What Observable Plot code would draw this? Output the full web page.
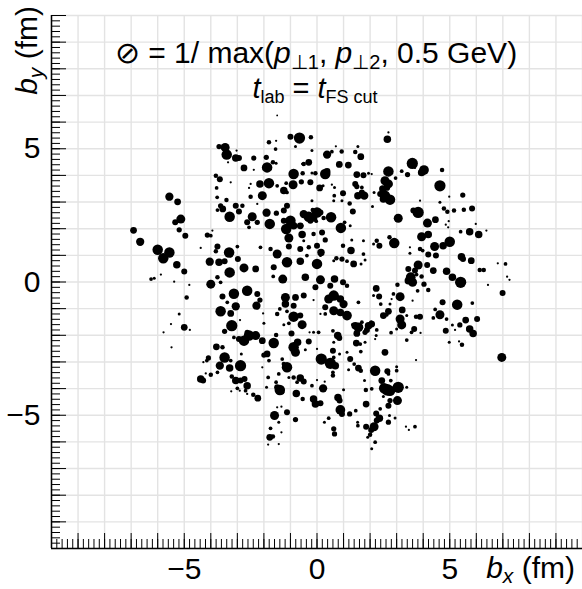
<!DOCTYPE html>
<html><head><meta charset="utf-8">
<script src="https://cdn.jsdelivr.net/npm/d3@7"></script>
<script src="https://cdn.jsdelivr.net/npm/@observablehq/plot@0.6"></script>
<style>
html,body{margin:0;padding:0;background:#fff;}
#chart svg{display:block}
</style></head><body><div id="chart"></div>
<script>
// [b_x (fm), b_y (fm), ⊘ (fm)], grouped by region
const regionNW = [
[-0.66,5.40,0.375],[-1.00,5.45,0.2],[-0.23,5.43,0.15],[-0.81,5.08,0.1],[-1.81,5.24,0.15],[-1.54,5.30,0.075],
[-1.56,4.99,0.125],[-3.69,5.08,0.175],[-3.46,5.05,0.3],[-3.40,4.78,0.35],[-3.06,4.65,0.25],[-2.94,4.65,0.2],
[-3.03,4.93,0.075],[-3.35,4.49,0.075],[-2.75,4.28,0.225],[-2.38,4.65,0.175],[-1.91,4.68,0.175],[-1.88,4.30,0.35],
[-1.66,4.49,0.15],[-1.54,4.46,0.1],[-2.38,4.21,0.075],[-0.88,4.05,0.35],[-0.54,4.08,0.15],[-0.19,4.09,0.1],
[-0.56,4.43,0.075],[-0.38,4.49,0.075],[-0.19,4.93,0.1],[-3.81,3.99,0.15],[-3.66,3.86,0.2],[-3.25,3.74,0.075],
[-2.5,3.68,0.075],[-2.56,3.53,0.075],[-2.15,3.68,0.25],[-1.81,3.71,0.35],[-1.5,3.61,0.125],[-1.16,3.71,0.125],
[-0.9,3.65,0.3],[-0.59,3.76,0.175],[-0.25,3.74,0.2],[-1.25,3.43,0.25],[-1.13,3.36,0.125],[-2.06,3.24,0.3],
[-2.5,3.2,0.15],[-3.78,3.53,0.125],[-3.76,3.18,0.125],[-3.41,3.08,0.15],[-3.06,2.86,0.2],[-2.81,2.86,0.15],
[-2.25,2.93,0.075],[-1.9,2.6,0.275],[-3.63,2.86,0.175],[-3.55,2.74,0.225],[-3.75,2.7,0.125],[-3.29,2.45,0.35],
[-2.94,2.65,0.2],[-2.44,2.45,0.3],[-2.63,2.24,0.2],[-2.56,2.05,0.125],[-2.25,2.24,0.175],[-1.78,2.18,0.35],
[-1.53,2.58,0.175],[-1.25,2.68,0.2],[-1.13,2.86,0.2],[-1.25,2.3,0.2],[-1.0,2.3,0.35],[-1.16,1.99,0.35],
[-0.88,2.11,0.25],[-0.63,2.11,0.225],[-0.56,1.78,0.25],[-1.06,1.65,0.3],[-0.31,2.45,0.35],[-0.13,2.4,0.25],
[-5.56,3.2,0.275],[-5.25,3.01,0.225],[-5.13,2.36,0.3],[-5.34,2.24,0.2],[-5.19,1.96,0.175],[-4.96,1.74,0.2],
[-6.91,1.94,0.225],[-6.66,1.51,0.275],[-6.0,1.21,0.35],[-5.56,1.11,0.35],[-5.79,0.89,0.35],[-5.28,0.65,0.25],
[-5.0,0.39,0.2],[-6.25,0.11,0.125],[-6.13,0.14,0.1],[-5.88,0.28,0.075],[-5.38,0.01,0.075],[-4.81,-0.11,0.075],
[-4.91,-0.58,0.15],[-4.13,1.76,0.175],[-4.0,1.74,0.125],[-4.38,1.28,0.075],[-3.94,1.93,0.075],[-3.75,1.33,0.2],
[-3.81,1.15,0.15],[-3.31,1.11,0.35],[-3.0,1.33,0.125],[-2.98,0.86,0.2],[-4.04,0.76,0.275],[-3.69,0.74,0.25],
[-3.48,0.78,0.2],[-3.25,0.99,0.125],[-3.29,0.36,0.35],[-2.75,0.53,0.3],[-2.31,0.49,0.225],[-4.0,-0.08,0.3],
[-3.75,0.18,0.15],[-3.63,-0.01,0.125],[-3.13,-0.44,0.35],[-2.63,-0.33,0.35],[-2.25,-0.45,0.2],[-3.56,-0.54,0.2],
[-0.81,-0.58,0.225],[-0.5,-0.51,0.2],[-1.19,-0.58,0.3],[-3.06,-0.91,0.275],[-2.28,-0.89,0.275],[-2.13,1.3,0.125],
[-1.75,1.24,0.15],[-1.5,1.05,0.3],[-1.06,1.33,0.2],[-0.63,1.24,0.2],[0,0.68,0.35],[-1.13,0.74,0.35],
[-1.29,0.11,0.3],[-1.63,0.55,0.2],[-1.65,0.21,0.125],[-1.19,-0.83,0.25],[-0.88,-0.89,0.2],[-1.5,6.25,0.06]
];
const regionNE = [
[2.65,5.36,0.25],[2.69,5.61,0.075],[0.71,5.09,0.075],[1.54,5.08,0.1],[0.38,4.78,0.275],[0.56,4.89,0.125],
[0.93,4.9,0.15],[1.44,4.88,0.15],[1.65,4.7,0.225],[-0.31,4.49,0.225],[-0.5,4.43,0.15],[0.84,4.41,0.225],
[1.18,4.39,0.225],[3.59,4.45,0.375],[4.03,4.2,0.325],[3.94,4.11,0.25],[4.71,4.2,0.15],[3.19,4.16,0.125],
[3.41,4.03,0.175],[3.69,4.28,0.075],[2.69,4.15,0.35],[2.96,3.9,0.125],[0.31,4.05,0.35],[0.38,4.15,0.225],
[-0.06,4.08,0.15],[1.5,4.03,0.225],[1.75,4.01,0.2],[1.94,4.08,0.1],[2.06,4.05,0.075],[0.1,3.53,0.225],
[0.23,3.61,0.1],[0.56,3.65,0.075],[0.66,3.55,0.1],[0.98,3.33,0.2],[1.44,3.68,0.2],[1.5,3.58,0.175],
[1.69,3.55,0.125],[1.54,3.24,0.25],[1.78,3.24,0.275],[1.69,3.36,0.2],[0.65,3.24,0.125],[0.63,3.05,0.1],
[0.94,3.05,0.1],[1.23,2.95,0.15],[-0.19,3.05,0.1],[2.56,3.8,0.3],[2.69,3.68,0.3],[2.48,3.49,0.25],
[2.63,3.55,0.225],[2.38,3.3,0.2],[2.56,3.24,0.35],[2.75,3.09,0.35],[2.5,3.11,0.25],[2.15,3.36,0.1],
[4.63,3.61,0.375],[5.49,3.26,0.175],[4.98,3.2,0.075],[3.88,3.05,0.075],[2.09,2.83,0.1],[4.63,2.99,0.1],
[4.78,2.76,0.15],[4.91,2.64,0.15],[5.16,2.68,0.15],[5.53,2.71,0.15],[5.84,2.76,0.2],[3.81,2.61,0.375],
[3.63,2.68,0.2],[3.06,2.39,0.3],[4.16,2.21,0.3],[4.46,2.34,0.225],[4.96,2.28,0.075],[4.85,2.15,0.075],
[4.94,2.05,0.075],[-0.5,2.55,0.275],[0,2.61,0.35],[-0.16,2.7,0.15],[0.13,2.61,0.2],[0.53,2.43,0.35],
[0.25,2.4,0.15],[-0.25,2.3,0.2],[-0.03,2.28,0.125],[1.35,2.65,0.2],[1.04,2.24,0.125],[1.25,2.11,0.1],
[0.9,2.03,0.35],[-0.56,2.11,0.1],[-0.13,1.8,0.15],[0.19,1.86,0.2],[0.31,1.58,0.175],[0,1.36,0.2],
[-0.31,1.3,0.15],[-0.5,1.55,0.1],[1.31,1.58,0.1],[1.75,1.55,0.1],[2.25,1.55,0.15],[2.35,1.36,0.2],
[2.13,1.43,0.1],[2.91,1.46,0.35],[2.73,1.68,0.15],[3.5,1.3,0.075],[4.19,1.78,0.25],[3.94,1.7,0.3],
[4.43,1.33,0.3],[5.0,1.51,0.35],[4.75,1.36,0.25],[5.41,1.89,0.125],[5.75,1.89,0.25],[6.09,1.78,0.25],
[6.38,1.93,0.075],[5.98,2.18,0.075],[3.88,1.24,0.15],[3.98,1.18,0.125],[4.19,1.03,0.2],[4.48,0.99,0.2],
[0.13,0.99,0.1],[-0.63,0.78,0.25],[0.15,1.11,0.25],[-0.38,0.99,0.125],[0.98,1.36,0.15],[1.28,1.18,0.25],
[0.73,0.89,0.15],[0.94,0.86,0.175],[1.13,0.78,0.125],[1.38,0.68,0.225],[1.66,0.68,0.1],[1.75,1.05,0.125],
[1.81,0.83,0.1],[0.63,0.8,0.1],[3.5,1.08,0.1],[3.81,0.64,0.3],[3.69,0.43,0.2],[3.44,0.49,0.2],
[4.15,0.64,0.2],[4.38,0.43,0.225],[4.88,0.4,0.25],[5.1,0.18,0.25],[5.44,0.95,0.25],[5.5,0.86,0.2],
[5.81,0.8,0.225],[6.13,0.45,0.15],[6.28,0.45,0.15],[6.81,0.7,0.075],[7.1,0.68,0.125],[6.44,-0.11,0.075],
[6.99,-0.41,0.2],[7.16,0.2,0.075],[7.25,0.08,0.075],[5.41,-0.01,0.375],[0.13,0.08,0.3],[-0.44,0.18,0.25],
[0.66,0.11,0.25],[0.98,-0.01,0.2],[1.13,-0.14,0.15],[0.5,-0.14,0.2],[-0.06,-0.2,0.2],[-0.13,-0.68,0.075],
[0.63,-0.51,0.35],[0.44,-0.64,0.3],[0.88,-0.64,0.25],[1.0,-0.83,0.275],[0.31,-0.95,0.2],[1.56,-0.76,0.125],
[2.23,-0.24,0.225],[2.34,-0.54,0.2],[2.4,-0.83,0.125],[2.75,-0.83,0.1],[3.03,-0.1,0.15],[2.88,-0.45,0.125],
[3.13,-0.55,0.3],[3.44,0.05,0.25],[3.53,0.18,0.325],[3.6,-0.01,0.3],[3.75,0.28,0.125],[3.94,0.21,0.15],
[4.03,-0.08,0.175],[4.19,-0.3,0.15],[3.79,-0.33,0.125],[4.73,-0.76,0.2],[5.28,-0.85,0.35],[5.85,-0.79,0.125]
];
const regionSW = [
[-5.19,-1.2,0.1],[-5.5,-1.58,0.075],[-5.78,-1.89,0.075],[-5.0,-1.7,0.225],[-4.79,-1.8,0.075],[-5.48,-2.45,0.075],
[-2.15,-0.68,0.175],[-3.38,-0.76,0.125],[-3.63,-1.1,0.35],[-3.25,-1.18,0.225],[-2.9,-1.43,0.075],[-3.21,-1.64,0.375],
[-3.48,-1.85,0.175],[-3.13,-2.08,0.125],[-2.94,-2.14,0.2],[-2.75,-2.2,0.35],[-2.56,-2.01,0.35],[-2.31,-2.01,0.3],
[-2.63,-1.89,0.175],[-2.06,-2.2,0.225],[-1.63,-2.29,0.35],[-2.0,-1.55,0.1],[-2.03,-1.18,0.075],[-1.5,-1.2,0.15],
[-1.4,-1.01,0.125],[-1.13,-1.1,0.125],[-0.88,-1.3,0.35],[-0.63,-1.26,0.2],[-0.56,-1.6,0.3],[-1.06,-1.55,0.125],
[-1.25,-1.6,0.1],[-0.96,-1.93,0.2],[-0.73,-2.26,0.25],[-0.88,-2.45,0.35],[-0.81,-2.64,0.3],[-0.31,-2.23,0.2],
[-0.13,-1.89,0.1],[-0.28,-1.89,0.075],[-1.54,-1.99,0.15],[-0.44,-2.54,0.1],[-3.79,-2.43,0.225],[-3.56,-2.45,0.15],
[-3.48,-2.83,0.35],[-3.25,-2.95,0.125],[-2.88,-3.14,0.375],[-2.85,-2.7,0.1],[-3.66,-3.14,0.275],[-3.29,-3.23,0.25],
[-4.09,-2.85,0.175],[-4.15,-2.95,0.125],[-4.28,-3.01,0.075],[-3.75,-3.39,0.125],[-4.0,-3.48,0.15],[-4.38,-3.64,0.25],
[-4.29,-3.7,0.2],[-4.19,-3.43,0.075],[-3.21,-3.55,0.15],[-3.06,-3.7,0.25],[-2.88,-3.7,0.2],[-2.73,-3.64,0.2],
[-2.63,-3.89,0.25],[-3.0,-3.99,0.125],[-3.23,-4.1,0.075],[-2.91,-4.08,0.075],[-2.69,-4.08,0.125],[-2.4,-4.23,0.15],
[-2.23,-4.36,0.225],[-2.63,-4.2,0.075],[-2.06,-3.2,0.075],[-1.88,-2.7,0.225],[-2.0,-2.74,0.175],[-1.81,-2.95,0.125],
[-1.31,-2.89,0.125],[-1.13,-3.2,0.35],[-1.25,-3.08,0.15],[-1.44,-3.45,0.125],[-1.54,-3.76,0.125],[-1.84,-3.58,0.125],
[-1.9,-3.95,0.1],[-1.4,-4.05,0.35],[-1.5,-3.95,0.2],[-1.31,-4.14,0.15],[-1.06,-3.58,0.1],[-0.78,-4.18,0.25],
[-0.88,-3.58,0.15],[-0.63,-3.6,0.25],[-0.5,-3.73,0.2],[-0.75,-3.76,0.125],[-0.54,-4.39,0.15],[-0.13,-4.39,0.25],
[-0.19,-3.89,0.125],[-1.13,-4.89,0.2],[-0.81,-5.16,0.175],[-1.6,-5.01,0.3],[-1.5,-4.7,0.075],[-1.34,-4.68,0.075],
[-1.44,-5.26,0.1],[-1.75,-5.49,0.125],[-1.78,-5.83,0.225],[-1.66,-5.8,0.15],[-1.34,-5.64,0.075],[-1.84,-6.1,0.075],
[-1.44,-6.08,0.075]
];
const regionSE = [
[6.96,-2.83,0.3],[4.63,-1.23,0.3],[4.45,-1.03,0.125],[4.38,-1.35,0.125],[4.88,-1.39,0.125],[4.85,-1.83,0.2],
[5.1,-1.61,0.1],[5.2,-1.8,0.075],[5.38,-1.61,0.175],[5.6,-1.43,0.225],[6.03,-1.39,0.2],[5.75,-1.76,0.25],
[5.88,-1.93,0.25],[4.98,-2.26,0.1],[5.35,-2.23,0.075],[5.46,-2.35,0.15],[3.6,-0.7,0.075],[2.13,-0.51,0.1],
[2.81,-0.64,0.075],[2.69,-1.1,0.225],[2.5,-1.26,0.225],[2.63,-1.23,0.125],[3.21,-1.05,0.225],[3.13,-1.39,0.3],
[3.19,-1.61,0.3],[3.38,-1.26,0.1],[3.73,-1.3,0.15],[3.88,-1.3,0.2],[3.66,-1.76,0.2],[3.56,-1.89,0.125],
[3.9,-1.91,0.075],[3.0,-1.76,0.1],[2.79,-1.9,0.125],[3.38,-2.18,0.125],[2.56,-2.64,0.225],[3.73,-2.93,0.075],
[1.69,-1.51,0.125],[1.56,-1.7,0.325],[1.44,-1.64,0.25],[1.35,-1.6,0.125],[1.81,-1.89,0.175],[1.5,-1.93,0.225],
[1.94,-1.64,0.25],[2.06,-1.58,0.225],[1.88,-1.8,0.2],[2.04,-1.51,0.125],[2.25,-1.8,0.125],[2.19,-2.14,0.075],
[2.23,-2.01,0.1],[1.48,-2.29,0.225],[1.63,-2.33,0.125],[1.81,-2.26,0.1],[1.13,-1.26,0.325],[0.88,-1.14,0.25],
[0.63,-1.08,0.3],[0.31,-1.2,0.125],[0.13,-1.2,0.075],[0.06,-1.89,0.125],[0.6,-1.83,0.125],[0.78,-2.01,0.25],
[0.84,-2.1,0.2],[0.63,-2.26,0.1],[0.6,-2.58,0.2],[0,-2.51,0.075],[1.13,-2.64,0.1],[0.85,-2.7,0.1],
[1.65,-2.61,0.125],[0.16,-2.89,0.375],[0.5,-3.05,0.375],[0.69,-3.14,0.25],[0.63,-2.83,0.125],[1.25,-2.89,0.2],
[1.4,-3.08,0.125],[1.56,-3.23,0.225],[1.65,-3.33,0.15],[1.19,-3.29,0.1],[0.6,-3.39,0.125],[0.6,-3.51,0.15],
[2.19,-3.33,0.35],[2.65,-3.35,0.2],[2.69,-3.45,0.125],[3.0,-3.18,0.1],[3.0,-3.33,0.125],[2.44,-3.7,0.225],
[2.78,-3.7,0.125],[2.65,-4.05,0.39],[2.53,-3.99,0.35],[2.75,-4.08,0.35],[3.06,-3.95,0.375],[3.38,-3.95,0.1],
[3.03,-4.45,0.3],[2.75,-4.45,0.175],[2.69,-4.64,0.2],[1.84,-4.05,0.15],[2.06,-4.01,0.125],[1.79,-3.7,0.1],
[2.5,-4.3,0.1],[1.0,-4.04,0.1],[0.23,-3.99,0.275],[0,-3.68,0.075],[0.29,-3.74,0.075],[-0.06,-4.58,0.25],
[0.13,-4.55,0.2],[0.79,-4.33,0.25],[0.85,-4.45,0.2],[0.88,-4.8,0.325],[0.94,-4.95,0.2],[1.23,-4.95,0.175],
[1.46,-4.83,0.125],[0.44,-5.11,0.125],[0.28,-5.26,0.1],[0.63,-5.51,0.175],[0.66,-5.7,0.175],[1.85,-4.58,0.225],
[2.23,-4.93,0.2],[2.38,-4.76,0.125],[2.35,-5.11,0.25],[2.25,-5.2,0.2],[2.15,-5.43,0.3],[2.04,-5.55,0.2],
[1.91,-5.83,0.1],[2.0,-5.73,0.15],[1.85,-5.43,0.2],[1.54,-5.39,0.125],[1.53,-5.26,0.1],[2.19,-6.01,0.125],
[2.06,-6.26,0.1],[2.69,-5.26,0.175],[2.73,-5.01,0.1],[2.94,-5.1,0.1],[3.35,-5.43,0.075],[3.46,-5.55,0.075],
[3.69,-5.43,0.125]
];

const xTickLabels = [-5, 0, 5];
const yTickLabels = [-5, 0, 5];
const majorTicks = [-10,-9,-8,-7,-6,-5,-4,-3,-2,-1,0,1,2,3,4,5,6,7,8,9,10];
const minorTicks = d3.range(-100, 101, 2).map(v => v / 10);
const xTitle = ["b", "x", " (fm)"];
const yTitle = ["b", "y", " (fm)"];
const line1 = "\u2298 = 1/ max(";
const line2 = ["t", "lab", " = ", "t", "FS cut"];

const points = [...regionNW, ...regionNE, ...regionSW, ...regionSE].map(([bx, by, d]) => ({bx, by, d}));

const W = 582, H = 589, mL = 51, mR = 0, mT = 15, mB = 41;
const frameH = H - mT - mB, frameW = W - mL - mR;
const FONT = "'Liberation Sans', Arial, Helvetica, sans-serif";
const fmt = v => v < 0 ? "\u2212" + Math.abs(v) : String(v);

const plot = Plot.plot({
  width: W, height: H,
  marginLeft: mL, marginRight: mR, marginTop: mT, marginBottom: mB,
  style: {fontFamily: FONT, background: "white", color: "black"},
  x: {domain: [-10, 10], axis: null},
  y: {domain: [-10, 10], axis: null},
  r: {type: "linear", domain: [0, 0.3], range: [0, 4.5]},
  marks: [
    Plot.ruleX(majorTicks, {stroke: "#e3e3e3", strokeWidth: 1.4}),
    Plot.ruleY(majorTicks, {stroke: "#e3e3e3", strokeWidth: 1.4}),
    Plot.ruleX(minorTicks, {stroke: "black", strokeWidth: 1, insetTop: frameH - 9}),
    Plot.ruleX(majorTicks, {stroke: "black", strokeWidth: 1, insetTop: frameH - 15}),
    Plot.ruleY(minorTicks, {stroke: "black", strokeWidth: 1, insetRight: frameW - 9}),
    Plot.ruleY(majorTicks, {stroke: "black", strokeWidth: 1, insetRight: frameW - 15}),
    Plot.ruleX([-10], {stroke: "black", strokeWidth: 1.5}),
    Plot.ruleY([-10], {stroke: "black", strokeWidth: 1.5}),
    Plot.dot(points, {x: "bx", y: "by", r: "d", fill: "black"}),
    Plot.text(xTickLabels, {x: v => v, text: fmt, frameAnchor: "bottom", lineAnchor: "top", dy: 9, fontSize: 30}),
    Plot.text(yTickLabels, {y: v => v, text: fmt, frameAnchor: "left", textAnchor: "end", dx: -11, fontSize: 30})
  ]
});
document.getElementById("chart").appendChild(plot);

const svg = d3.select(plot);
// annotation line 1
const t1 = svg.append("text").attr("x", 316).attr("y", 63).attr("text-anchor", "middle")
  .attr("font-size", 30).attr("font-family", FONT).attr("fill", "black");
t1.append("tspan").text(line1);
t1.append("tspan").attr("font-style", "italic").text("p");
t1.append("tspan").attr("font-size", 20).attr("dy", 6).text("\u22a51");
t1.append("tspan").attr("dy", -6).text(", ");
t1.append("tspan").attr("font-style", "italic").text("p");
t1.append("tspan").attr("font-size", 20).attr("dy", 6).text("\u22a52");
t1.append("tspan").attr("dy", -6).text(", 0.5 GeV)");
// annotation line 2
const t2 = svg.append("text").attr("x", 315).attr("y", 98).attr("text-anchor", "middle")
  .attr("font-size", 29).attr("font-family", FONT).attr("fill", "black");
t2.append("tspan").attr("font-style", "italic").text(line2[0]);
t2.append("tspan").attr("font-size", 18).attr("dy", 5).text(line2[1]);
t2.append("tspan").attr("dy", -5).text(line2[2]);
t2.append("tspan").attr("font-style", "italic").text(line2[3]);
t2.append("tspan").attr("font-size", 18).attr("dy", 5).text(line2[4]);
// x title
const tx = svg.append("text").attr("x", 575).attr("y", 578).attr("text-anchor", "end")
  .attr("font-size", 30).attr("font-family", FONT).attr("fill", "black");
tx.append("tspan").attr("font-style", "italic").text(xTitle[0]);
tx.append("tspan").attr("font-style", "italic").attr("font-size", 21).attr("dy", 5).text(xTitle[1]);
tx.append("tspan").attr("dy", -5).text(xTitle[2]);
// y title
const ty = svg.append("text").attr("transform", "translate(37,6) rotate(-90)").attr("text-anchor", "end")
  .attr("font-size", 30).attr("font-family", FONT).attr("fill", "black");
ty.append("tspan").attr("font-style", "italic").text(yTitle[0]);
ty.append("tspan").attr("font-style", "italic").attr("font-size", 21).attr("dy", 6).text(yTitle[1]);
ty.append("tspan").attr("dy", -6).text(yTitle[2]);
</script></body></html>
